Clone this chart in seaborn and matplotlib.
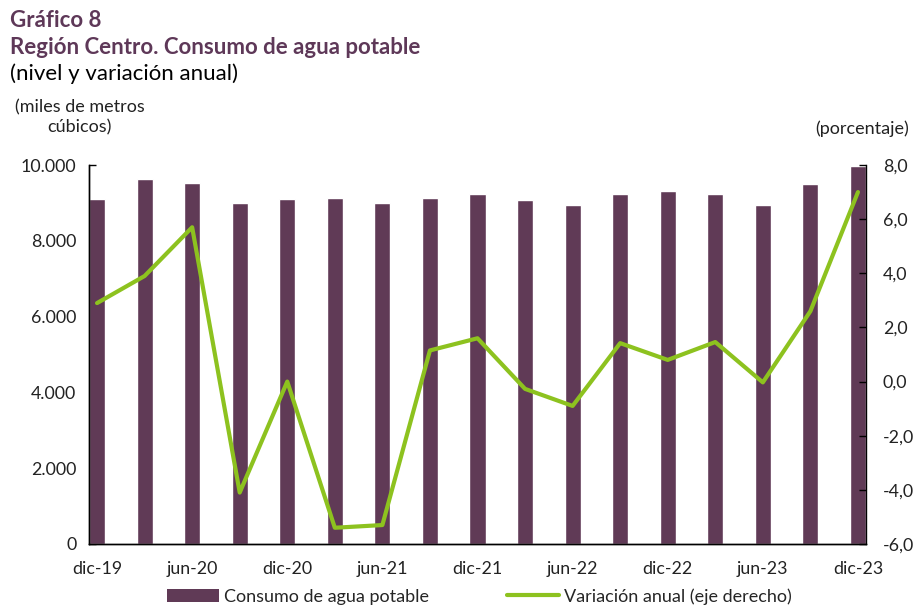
"""Región Centro: consumo de agua potable (nivel y variación anual)."""

import matplotlib

matplotlib.use("Agg")

import matplotlib.pyplot as plt
import pandas as pd
import seaborn as sns
from matplotlib.lines import Line2D
from matplotlib.patches import Patch

trimestres = [
    "dic-19", "mar-20", "jun-20", "sep-20", "dic-20", "mar-21", "jun-21",
    "sep-21", "dic-21", "mar-22", "jun-22", "sep-22", "dic-22", "mar-23",
    "jun-23", "sep-23", "dic-23",
]
consumo = [
    9090, 9620, 9520, 8990, 9090, 9120, 9010, 9120, 9225, 9085, 8950,
    9225, 9320, 9225, 8950, 9490, 9975,
]
variacion = [
    2.9, 3.9, 5.7, -4.1, 0.0, -5.4, -5.3, 1.15, 1.6, -0.27, -0.9,
    1.42, 0.8, 1.46, -0.03, 2.6, 7.0,
]
etiquetas_x = ["dic-19", "jun-20", "dic-20", "jun-21", "dic-21", "jun-22",
               "dic-22", "jun-23", "dic-23"]

PURPLE = "#603a56"
GREEN = "#8dc21f"
TITLE = "#5e3858"
BAR_W = 0.34

sns.set_theme(style="white")
plt.rcParams["font.family"] = ["Lato", "DejaVu Sans"]

df = pd.DataFrame({"trimestre": trimestres, "consumo": consumo,
                   "variacion": variacion})
df["pos"] = range(len(df))

fig = plt.figure(figsize=(9.18, 6.10), dpi=100)
ax = fig.add_axes([0.0969, 0.1082, 0.8465, 0.6213])

sns.barplot(data=df, x="trimestre", y="consumo", order=trimestres,
            color=PURPLE, saturation=1, width=BAR_W, ax=ax)
ax.set_xlim(-BAR_W / 2, len(trimestres) - 1 + BAR_W / 2)
ax.set_ylim(0, 10000)
ax.set_yticks(range(0, 10001, 2000))
ax.set_yticklabels([f"{v:,}".replace(",", ".") for v in range(0, 10001, 2000)])
ax.set_xlabel("")
ax.set_ylabel("")

label_pos = [trimestres.index(t) for t in etiquetas_x]
ax.set_xticks(label_pos)
ax.set_xticklabels(etiquetas_x)
ax.set_xticks([p - BAR_W / 2 for p in label_pos], minor=True)
ax.tick_params(axis="x", which="major", length=0, pad=12, labelsize=12.8,
               colors="#222222")
ax.tick_params(axis="x", which="minor", direction="in", length=4,
               width=1, color="black")
ax.tick_params(axis="y", direction="in", length=5, width=1, pad=9,
               labelsize=12.8, color="black", labelcolor="#222222")

ax2 = ax.twinx()
sns.lineplot(data=df, x="pos", y="variacion", color=GREEN, linewidth=3,
             ax=ax2)
ax2.set_ylim(-6, 8)
ax2.set_yticks(range(-6, 9, 2))
ax2.set_yticklabels([f"{v:.1f}".replace(".", ",") for v in range(-6, 9, 2)])
ax2.set_ylabel("")
ax2.set_xlabel("")
ax2.tick_params(axis="y", direction="in", length=5, width=1, pad=12,
                labelsize=12.8, color="black", labelcolor="#222222")

for a in (ax, ax2):
    a.spines["top"].set_visible(False)
    for s in ("left", "right", "bottom"):
        a.spines[s].set_color("black")
        a.spines[s].set_linewidth(1)
ax.spines["right"].set_visible(False)

fig.text(0.011, 0.984, "Gráfico 8", fontsize=16, fontweight="bold",
         color=TITLE, va="top")
fig.text(0.011, 0.940, "Región Centro. Consumo de agua potable", fontsize=16,
         fontweight="bold", color=TITLE, va="top")
fig.text(0.011, 0.896, "(nivel y variación anual)", fontsize=16,
         color="black", va="top")
fig.text(0.087, 0.838, "(miles de metros\ncúbicos)", fontsize=13,
         color="#222222", va="top", ha="center", linespacing=1.3)
fig.text(0.990, 0.802, "(porcentaje)", fontsize=13, color="#222222",
         va="top", ha="right")

handles = [Patch(facecolor=PURPLE, edgecolor="none"),
           Line2D([0], [0], color=GREEN, linewidth=3)]
fig.legend(handles, ["Consumo de agua potable",
                     "Variación anual (eje derecho)"],
           loc="center", bbox_to_anchor=(0.522, 0.022), ncol=2,
           frameon=False, fontsize=13, handlelength=2.9,
           handleheight=0.75, handletextpad=0.25, columnspacing=4.3)

fig.savefig("out.png", dpi=100)
